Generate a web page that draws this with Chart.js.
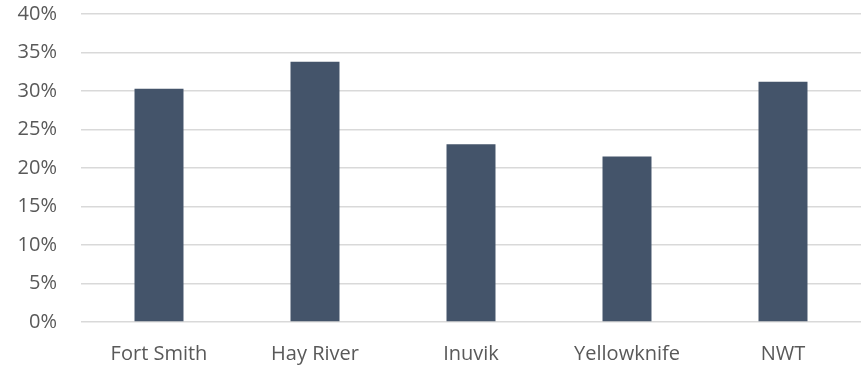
<!DOCTYPE html>
<html>
<head>
<meta charset="utf-8">
<script src="https://cdn.jsdelivr.net/npm/chart.js@4/dist/chart.umd.min.js"></script>
<style>
  html, body { margin: 0; padding: 0; background: #fff; }
  #wrap { width: 865px; height: 366px; }
</style>
</head>
<body>
<div id="wrap"><canvas id="chart" width="865" height="366"></canvas></div>
<script>
// values (percent)
const categories = ['Fort Smith', 'Hay River', 'Inuvik', 'Yellowknife', 'NWT'];
const shares = [30.3, 33.8, 23.1, 21.5, 31.2];
const yTicks = [0, 5, 10, 15, 20, 25, 30, 35, 40];

const textColor = '#595959';
const font = { family: '"Open Sans", sans-serif', size: 20 };

new Chart(document.getElementById('chart'), {
  type: 'bar',
  data: {
    labels: categories,
    datasets: [{
      data: shares,
      backgroundColor: '#44546a',
      borderWidth: 0,
      barPercentage: 1,
      categoryPercentage: 0.314
    }]
  },
  options: {
    responsive: false,
    animation: false,
    layout: { padding: { top: 14, right: 4, left: 0, bottom: 0 } },
    plugins: { legend: { display: false }, tooltip: { enabled: false } },
    scales: {
      x: {
        grid: { display: false, drawTicks: false },
        border: { display: false },
        ticks: { color: textColor, font, padding: 20, maxRotation: 0 },
        afterFit(axis) {
          axis.height = 44;
          axis.paddingLeft = 0;
          axis.paddingRight = 0;
        }
      },
      y: {
        min: 0,
        max: 40,
        afterBuildTicks(axis) { axis.ticks = yTicks.map(v => ({ value: v })); },
        grid: { color: '#d9d9d9', lineWidth: 1.5, drawTicks: false },
        border: { display: false },
        ticks: { color: textColor, font, padding: 24, callback: v => v + '%' },
        afterFit(axis) {
          axis.width = 81;
          axis.paddingTop = 0;
          axis.paddingBottom = 0;
        }
      }
    }
  }
});
</script>
</body>
</html>
